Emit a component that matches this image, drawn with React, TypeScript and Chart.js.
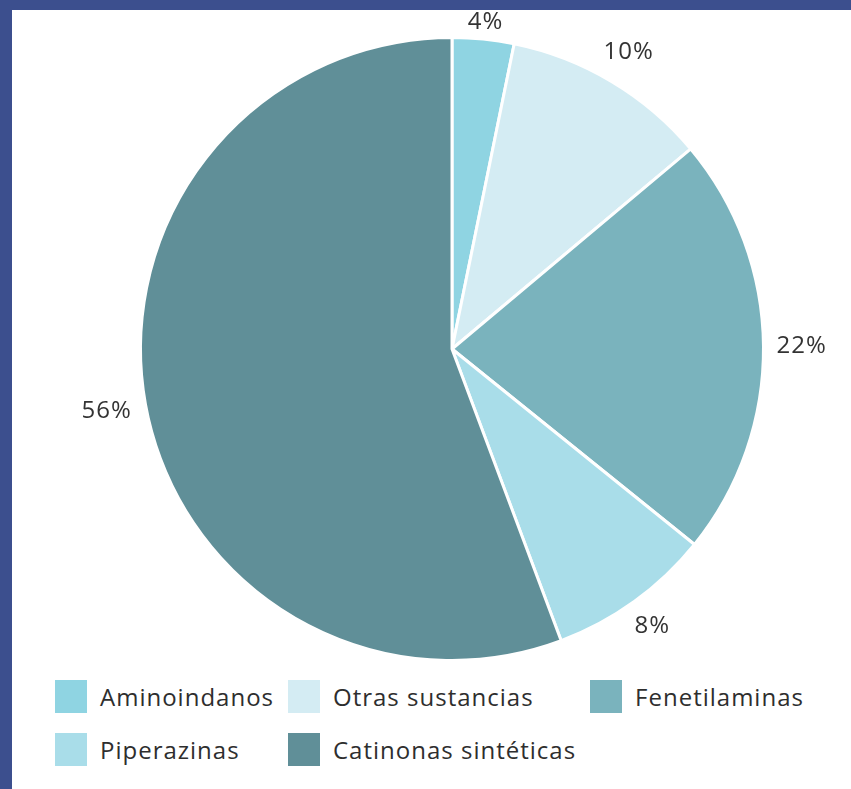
import React, { useEffect, useRef } from "react";
import { Chart, registerables } from "chart.js";

Chart.register(...registerables);

const categories = ["Aminoindanos", "Otras sustancias", "Fenetilaminas", "Piperazinas", "Catinonas sintéticas"];
const shares = [3.2, 10.7, 21.9, 8.5, 55.7];
const shareLabels = ["4%", "10%", "22%", "8%", "56%"];
const colors = ["#8fd4e2", "#d4ecf3", "#7ab3bd", "#a9dde9", "#608f98"];

const FONT = "'Open Sans', sans-serif";

const outsideLabels = {
  id: "outsideLabels",
  afterDatasetsDraw(chart: any) {
    const ctx = chart.ctx;
    const meta = chart.getDatasetMeta(0);
    ctx.save();
    ctx.font = `400 24px ${FONT}`;
    try {
      (ctx as any).letterSpacing = "1px";
    } catch (e) {}
    ctx.fillStyle = "#333333";
    ctx.textAlign = "center";
    ctx.textBaseline = "middle";
    meta.data.forEach((arc: any, i: number) => {
      const { x, y, startAngle, endAngle, outerRadius } = arc.getProps(
        ["x", "y", "startAngle", "endAngle", "outerRadius"],
        true
      );
      const mid = (startAngle + endAngle) / 2;
      const text = shareLabels[i];
      const hw = ctx.measureText(text).width / 2;
      const hh = 9;
      const c = Math.cos(mid);
      const s = Math.sin(mid);
      const gap = 13;
      const d = outerRadius + gap + Math.abs(c) * hw + Math.abs(s) * hh;
      ctx.fillText(text, x + c * d, Math.max(y + s * d, 12));
    });
    ctx.restore();
  },
};

export default function App() {
  const ref = useRef<HTMLCanvasElement | null>(null);

  useEffect(() => {
    document.body.style.margin = "0";
    const chart = new Chart(ref.current as HTMLCanvasElement, {
      type: "pie",
      data: {
        labels: categories,
        datasets: [
          {
            data: shares,
            backgroundColor: colors,
            borderColor: "#ffffff",
            borderWidth: 3,
          },
        ],
      },
      options: {
        animation: false,
        responsive: false,
        maintainAspectRatio: false,
        layout: { padding: { left: 127, right: 86, top: 25, bottom: 7 } },
        plugins: {
          legend: { display: false },
          tooltip: { enabled: false },
        },
      },
      plugins: [outsideLabels],
    });
    return () => chart.destroy();
  }, []);

  return (
    <div
      style={{
        position: "fixed",
        left: 0,
        top: 0,
        width: 851,
        height: 789,
        background: "#3c4f8e",
        overflow: "hidden",
      }}
    >
      <div
        style={{
          position: "absolute",
          left: 12,
          top: 10,
          width: 839,
          height: 779,
          background: "#ffffff",
        }}
      >
        <canvas ref={ref} width={839} height={660} style={{ display: "block", width: 839, height: 660 }} />
        <div
          style={{
            position: "absolute",
            left: 43,
            top: 670,
            display: "grid",
            gridTemplateColumns: "auto auto auto",
            columnGap: 14,
            rowGap: 20,
            fontFamily: FONT,
            fontSize: 24,
            letterSpacing: 1,
            color: "#2e2e2e",
          }}
        >
          {categories.map((c, i) => (
            <div key={c} style={{ display: "flex", alignItems: "center", height: 33 }}>
              <span
                style={{
                  display: "inline-block",
                  width: 32,
                  height: 33,
                  background: colors[i],
                  marginRight: 13,
                  flex: "none",
                }}
              />
              <span style={{ whiteSpace: "nowrap" }}>{c}</span>
            </div>
          ))}
        </div>
      </div>
    </div>
  );
}
